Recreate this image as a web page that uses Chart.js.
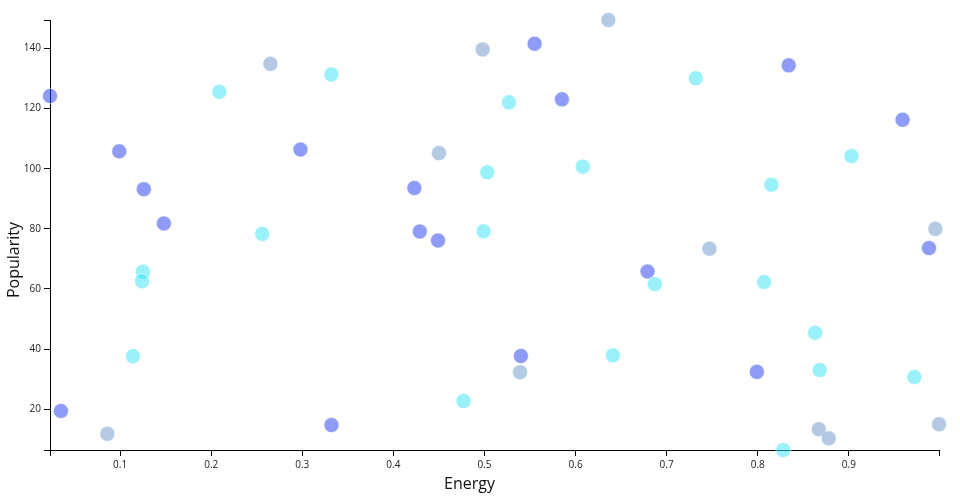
<!DOCTYPE html>
<html>
<head>
<meta charset="utf-8">
<script src="https://cdn.jsdelivr.net/npm/chart.js@4/dist/chart.umd.min.js"></script>
<style>
  body { margin: 0; background: #fff; }
  #wrap { width: 960px; height: 500px; }
</style>
</head>
<body>
<div id="wrap"><canvas id="scatterChart" width="960" height="500"></canvas></div>
<script>
// tick labels
const energyTicks = [0.1, 0.2, 0.3, 0.4, 0.5, 0.6, 0.7, 0.8, 0.9];
const popularityTicks = [20, 40, 60, 80, 100, 120, 140];

// group 1 (blue)
const energyBlue = [0.023, 0.035, 0.099, 0.126, 0.148, 0.298, 0.332, 0.423, 0.429, 0.449, 0.540, 0.555, 0.585, 0.679, 0.799, 0.834, 0.959, 0.988];
const popularityBlue = [124.2, 19.4, 105.8, 93.2, 81.8, 106.4, 14.7, 93.6, 79.1, 76.1, 37.7, 141.6, 123.1, 65.8, 32.4, 134.4, 116.3, 73.6];

// group 2 (cyan)
const energyCyan = [0.209, 0.256, 0.125, 0.124, 0.114, 0.332, 0.527, 0.503, 0.608, 0.499, 0.477, 0.641, 0.687, 0.732, 0.815, 0.903, 0.807, 0.863, 0.868, 0.972, 0.828];
const popularityCyan = [125.6, 78.3, 65.7, 62.6, 37.6, 131.4, 122.1, 98.8, 100.7, 79.2, 22.7, 37.9, 61.6, 130.1, 94.7, 104.2, 62.3, 45.4, 33.0, 30.7, 6.4];

// group 3 (light steel blue)
const energyGrey = [0.265, 0.636, 0.498, 0.450, 0.747, 0.995, 0.086, 0.539, 0.867, 0.878, 0.999];
const popularityGrey = [134.9, 149.5, 139.7, 105.2, 73.4, 80.0, 11.8, 32.3, 13.3, 10.3, 15.0];

const allEnergy = energyBlue.concat(energyCyan, energyGrey);
const allPopularity = popularityBlue.concat(popularityCyan, popularityGrey);
const xMin = Math.min(...allEnergy), xMax = Math.max(...allEnergy);
const yMin = Math.min(...allPopularity), yMax = Math.max(...allPopularity);

function toPoints(xs, ys) {
  return xs.map((x, i) => ({ x: x, y: ys[i] }));
}

function makeSet(label, xs, ys, fill) {
  return {
    label: label,
    data: toPoints(xs, ys),
    backgroundColor: fill,
    borderColor: "rgba(255,255,255,0.5)",
    borderWidth: 1,
    pointRadius: 7.5,
    pointHoverRadius: 7.5,
    clip: false
  };
}

const tickFont = { family: "'Open Sans', sans-serif", size: 10 };
const titleFont = { family: "'Open Sans', sans-serif", size: 16, weight: "normal", lineHeight: 1.2 };

// axis titles as full-size boxes so they centre on the whole canvas like the original
new Chart(document.getElementById("scatterChart"), {
  type: "scatter",
  data: {
    datasets: [
      makeSet("Group 3", energyGrey, popularityGrey, "rgba(105,149,201,0.5)"),
      makeSet("Group 2", energyCyan, popularityCyan, "rgba(55,227,243,0.5)"),
      makeSet("Group 1", energyBlue, popularityBlue, "rgba(31,57,239,0.5)")
    ]
  },
  options: {
    responsive: false,
    animation: false,
    devicePixelRatio: 1,
    layout: { padding: { top: 20, right: 21, left: 0, bottom: 0 } },
    plugins: {
      legend: { display: false },
      title: {
        display: true, position: "bottom", text: "Energy",
        font: titleFont, color: "#111", padding: { top: 0, bottom: 6 }
      },
      subtitle: {
        display: true, position: "left", text: "Popularity",
        font: titleFont, color: "#111", padding: { top: 5, bottom: 0 }
      }
    },
    scales: {
      x: {
        type: "linear",
        min: xMin,
        max: xMax,
        afterBuildTicks: s => { s.ticks = [xMin].concat(energyTicks, [xMax]).map(v => ({ value: v })); },
        afterFit: s => { s.height = 24.8; },
        ticks: {
          callback: v => energyTicks.includes(v) ? v.toFixed(1) : "",
          font: tickFont, color: "#222", padding: 3, autoSkip: false, maxRotation: 0
        },
        grid: { drawOnChartArea: false, drawTicks: true, tickLength: 6, color: "#000" },
        border: { color: "#000", width: 1 }
      },
      y: {
        type: "linear",
        min: yMin,
        max: yMax,
        afterBuildTicks: s => { s.ticks = [yMin].concat(popularityTicks, [yMax]).map(v => ({ value: v })); },
        afterFit: s => { s.width = 25.8; },
        ticks: {
          callback: v => popularityTicks.includes(v) ? String(v) : "",
          font: tickFont, color: "#222", padding: 3, autoSkip: false
        },
        grid: { drawOnChartArea: false, drawTicks: true, tickLength: 6, color: "#000" },
        border: { color: "#000", width: 1 }
      }
    }
  }
});
</script>
</body>
</html>
